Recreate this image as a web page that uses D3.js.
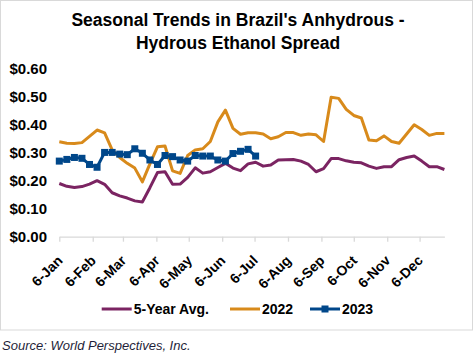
<!DOCTYPE html>
<html><head><meta charset="utf-8">
<script src="https://cdn.jsdelivr.net/npm/d3@7/dist/d3.min.js"></script>
<style>body{margin:0;background:#fff}svg{display:block;font-family:Arial,"Liberation Sans",sans-serif}</style>
</head><body><svg id="c" width="474" height="359"></svg>
<script>
const tickLabels = ["6-Jan","6-Feb","6-Mar","6-Apr","6-May","6-Jun","6-Jul","6-Aug","6-Sep","6-Oct","6-Nov","6-Dec"];
const yTicks = [0,0.1,0.2,0.3,0.4,0.5,0.6];
const seriesNames = ["5-Year Avg.","2022","2023"];
const avg5 = [0.190,0.180,0.176,0.179,0.188,0.200,0.187,0.157,0.146,0.138,0.128,0.124,0.175,0.229,0.232,0.187,0.188,0.212,0.246,0.227,0.232,0.247,0.262,0.245,0.236,0.260,0.266,0.252,0.256,0.274,0.275,0.276,0.270,0.258,0.232,0.243,0.279,0.279,0.271,0.266,0.264,0.252,0.244,0.250,0.250,0.275,0.283,0.288,0.270,0.250,0.250,0.240];
const y2022 = [0.339,0.334,0.333,0.336,0.358,0.381,0.371,0.310,0.283,0.262,0.245,0.196,0.260,0.321,0.324,0.235,0.226,0.290,0.310,0.314,0.340,0.410,0.452,0.387,0.366,0.371,0.371,0.367,0.350,0.357,0.372,0.372,0.362,0.367,0.364,0.340,0.498,0.494,0.455,0.433,0.424,0.345,0.343,0.360,0.340,0.334,0.367,0.400,0.383,0.362,0.369,0.369];
const y2023 = [0.270,0.276,0.283,0.280,0.258,0.248,0.301,0.301,0.295,0.293,0.314,0.298,0.274,0.258,0.290,0.286,0.274,0.270,0.290,0.288,0.288,0.274,0.270,0.297,0.305,0.312,0.288];
const colors = ["#7b2462","#d88a1b","#00478a"];

const start = new Date(2023,0,6);
const dateAt = i => d3.timeDay.offset(start, 7*i);
const svg = d3.select("#c");

// border
svg.append("rect").attr("x",0.5).attr("y",0.5).attr("width",472).attr("height",329.5)
  .attr("fill","none").attr("stroke","#d9d9d9");

// title
const title = svg.append("text").attr("text-anchor","middle").attr("font-weight","bold")
  .attr("font-size",17.5).attr("fill","#000");
title.append("tspan").attr("x",238).attr("y",25.5).text("Seasonal Trends in Brazil's Anhydrous -");
title.append("tspan").attr("x",238).attr("y",49).text("Hydrous Ethanol Spread");

const x = d3.scaleTime().domain([start, dateAt(51)]).range([59.3, 444.4]);
const y = d3.scaleLinear().domain([0,0.6]).range([236.7, 68.7]);

// y axis labels
const ya = svg.append("g").attr("transform","translate(59,0)")
  .call(d3.axisLeft(y).tickValues(yTicks).tickSize(0).tickPadding(12).tickFormat(d=>"$"+d.toFixed(2)));
ya.select(".domain").remove();
ya.selectAll("text").attr("font-size",15).attr("font-weight","bold").attr("fill","#000").attr("font-family","Arial, 'Liberation Sans', sans-serif");

// x axis
const tickDates = tickLabels.map((t,i)=>new Date(2023,i,6));
const xa = svg.append("g").attr("transform","translate(0,236.7)")
  .call(d3.axisBottom(x).tickValues(tickDates).tickSizeInner(5).tickSizeOuter(0).tickFormat((d,i)=>tickLabels[i]));
xa.select(".domain").attr("stroke","#d9d9d9").attr("stroke-width",1.3);
xa.selectAll(".tick line").attr("stroke","#d9d9d9").attr("stroke-width",1.3);
xa.selectAll("text").attr("font-size",14).attr("font-weight","bold").attr("fill","#000")
  .attr("font-family","Arial, 'Liberation Sans', sans-serif")
  .attr("text-anchor","end").attr("dy",0).attr("transform","translate(-2,19) rotate(-45)");

const line = d3.line().x((d,i)=>x(dateAt(i))).y(d=>y(d));
[avg5,y2022,y2023].forEach((s,k)=>{
  svg.append("path").datum(s).attr("d",line).attr("fill","none")
    .attr("stroke",colors[k]).attr("stroke-width",3).attr("stroke-linejoin","round");
});
svg.append("g").selectAll("rect").data(y2023).join("rect")
  .attr("x",(d,i)=>x(dateAt(i))-3.5).attr("y",d=>y(d)-3.5).attr("width",7).attr("height",7)
  .attr("fill",colors[2]);

// legend
const legX = [101.7,230,310];
const lg = svg.append("g");
seriesNames.forEach((n,k)=>{
  lg.append("line").attr("x1",legX[k]).attr("x2",legX[k]+30).attr("y1",309).attr("y2",309)
    .attr("stroke",colors[k]).attr("stroke-width",3);
  if(k===2) lg.append("rect").attr("x",legX[k]+11.5).attr("y",305.5).attr("width",7).attr("height",7).attr("fill",colors[k]);
  lg.append("text").attr("x",legX[k]+32).attr("y",314).attr("font-size",14).attr("font-weight","bold")
    .attr("fill","#000").text(n);
});

svg.append("text").attr("x",2).attr("y",350).attr("font-size",13).attr("font-style","italic")
  .attr("fill","#1f1f3a").text("Source: World Perspectives, Inc.");
</script></body></html>
